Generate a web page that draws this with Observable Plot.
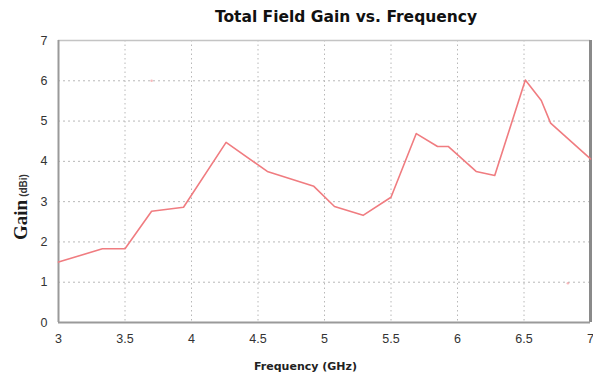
<!DOCTYPE html>
<html>
<head>
<meta charset="utf-8">
<script src="https://cdn.jsdelivr.net/npm/d3@7"></script>
<script src="https://cdn.jsdelivr.net/npm/@observablehq/plot@0.6"></script>
<style>
  html, body { margin: 0; padding: 0; background: #fff; }
  #wrap { position: relative; width: 593px; height: 376px; overflow: hidden; }
  #title { position: absolute; left: 0; top: 0; width: 593px; height: 30px; }
  #title span { position: absolute; left: 346px; top: 8px; transform: translateX(-50%); white-space: nowrap;
    font-family: "DejaVu Sans", Verdana, sans-serif; font-weight: bold; font-size: 15.5px; color: #111; }
  #chart { position: absolute; left: 0; top: 30px; }
</style>
</head>
<body>
<div id="wrap">
  <div id="title"><span>Total Field Gain vs. Frequency</span></div>
  <div id="chart"></div>
</div>
<script>
// Data
const frequency = [3.00, 3.33, 3.50, 3.70, 3.94, 4.26, 4.57, 4.92, 5.075, 5.29, 5.50, 5.69, 5.85, 5.93, 6.14, 6.28, 6.51, 6.63, 6.70, 7.00];
const gain      = [1.50, 1.83, 1.83, 2.76, 2.86, 4.47, 3.75, 3.38, 2.88, 2.66, 3.11, 4.69, 4.37, 4.37, 3.75, 3.65, 6.02, 5.51, 4.95, 4.06];
const xTicks = [3, 3.5, 4, 4.5, 5, 5.5, 6, 6.5, 7];
const yTicks = [0, 1, 2, 3, 4, 5, 6, 7];
const xDomain = [3, 7];
const yDomain = [0, 7];
const strayFreq = [3.70, 6.83];
const strayGain = [6.00, 0.975];

const data = frequency.map((f, i) => ({f, g: gain[i]}));
const stray = strayFreq.map((f, i) => ({f, g: strayGain[i]}));

const plot = Plot.plot({
  width: 593,
  height: 346,
  marginTop: 10,
  marginBottom: 54,
  marginLeft: 58,
  marginRight: 3,
  style: {fontFamily: "'Liberation Sans', Arial, sans-serif", fontSize: "12px", color: "#333", background: "#fff"},
  x: {domain: xDomain, ticks: xTicks, tickFormat: d => String(d), label: null},
  y: {domain: yDomain, ticks: yTicks, tickFormat: d => String(d), label: null},
  marks: [
    Plot.gridX(xTicks.slice(1, -1), {stroke: "#b8b8b8", strokeOpacity: 1, strokeDasharray: "1.5,3"}),
    Plot.gridY(yTicks.slice(1, -1), {stroke: "#b8b8b8", strokeOpacity: 1, strokeDasharray: "2,3"}),
    Plot.ruleY([yDomain[1]], {stroke: "#c4c4c4", strokeWidth: 1.5}),
    Plot.ruleX([xDomain[1]], {stroke: "#8a8a8a", strokeWidth: 3}),
    Plot.ruleX([xDomain[0]], {stroke: "#9a9a9a", strokeWidth: 2}),
    Plot.ruleY([yDomain[0]], {stroke: "#9a9a9a", strokeWidth: 2}),
    Plot.axisX({ticks: xTicks, tickSize: 0, tickPadding: 12, tickFormat: d => String(d), fill: "#333", fontSize: 12.5}),
    Plot.axisY({ticks: yTicks, tickSize: 0, tickPadding: 11, tickFormat: d => String(d), fill: "#333", fontSize: 12.5}),
    Plot.line(data, {x: "f", y: "g", stroke: "#f07c80", strokeWidth: 1.6}),
    Plot.dot(stray, {x: "f", y: "g", r: 1.3, fill: "#f08a90", fillOpacity: 0.6, stroke: "none"}),
    Plot.text(["Frequency (GHz)"], {frameAnchor: "bottom", dx: -19, dy: 47, text: d => d,
      fontFamily: "'DejaVu Sans', Verdana, sans-serif", fontWeight: "bold", fontSize: 11, fill: "#222"})
  ]
});

document.getElementById("chart").appendChild(plot);

// Y axis label with mixed fonts
const svg = d3.select(plot);
const yl = svg.append("text")
  .attr("transform", "translate(27,177) rotate(-90)")
  .attr("text-anchor", "middle");
yl.append("tspan")
  .attr("font-family", "'Liberation Serif', 'Times New Roman', serif")
  .attr("font-weight", "bold")
  .attr("font-size", 19)
  .attr("fill", "#1a1a1a")
  .text("Gain");
yl.append("tspan")
  .attr("font-family", "'Liberation Sans', Arial, sans-serif")
  .attr("font-weight", "bold")
  .attr("font-size", 10)
  .attr("fill", "#333")
  .attr("dx", 3)
  .text("(dBi)");
</script>
</body>
</html>
